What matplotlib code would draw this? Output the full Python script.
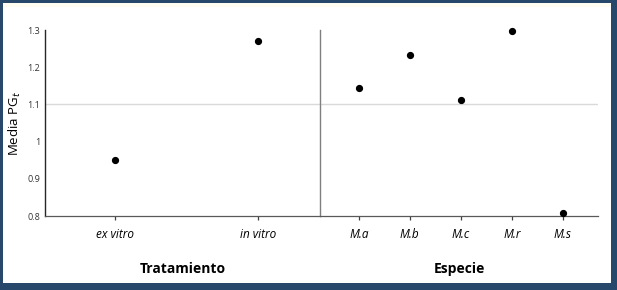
import matplotlib
matplotlib.use("Agg")
import matplotlib.pyplot as plt
from matplotlib.patches import Rectangle

trat_cats = ["ex vitro", "in vitro"]
trat_vals = [0.95, 1.27]
esp_cats = ["M.a", "M.b", "M.c", "M.r", "M.s"]
esp_vals = [1.144, 1.233, 1.112, 1.297, 0.808]
y_ticks = [0.8, 0.9, 1.0, 1.1, 1.2, 1.3]
y_ticklabels = ["0.8", "0.9", "1", "1.1", "1.2", "1.3"]

W, H = 617, 290
fig = plt.figure(figsize=(W / 100, H / 100), dpi=100)
fig.patch.set_facecolor("#27486b")
fig.add_artist(Rectangle((3 / W, (H - 283) / H), (611 - 3) / W, (283 - 3) / H,
                         transform=fig.transFigure, facecolor="white",
                         edgecolor="none", zorder=0))
fig.add_artist(Rectangle((3 / W, (H - 7) / H), (611 - 3) / W, 4 / H,
                         transform=fig.transFigure, facecolor="#fffcf2",
                         edgecolor="none", zorder=0))

font = "Open Sans"
bottom = (H - 216) / H
height = 186 / H
ax1 = fig.add_axes([45 / W, bottom, 275 / W, height])
ax2 = fig.add_axes([320 / W, bottom, 278 / W, height])

for ax in (ax1, ax2):
    ax.set_facecolor("none")
    ax.set_ylim(0.8, 1.3)
    ax.axhline(1.1, color="#d9d9d9", lw=1.0, zorder=1)
    for s in ("top", "right"):
        ax.spines[s].set_visible(False)
    ax.spines["bottom"].set_color("#595959")
    ax.spines["bottom"].set_linewidth(0.9)
    ax.tick_params(axis="x", direction="out", length=3, width=0.9,
                   color="#404040", pad=6)
    ax.tick_params(axis="y", length=0)

ax1.plot(range(len(trat_cats)), trat_vals, "o", color="black", ms=4.2, zorder=3)
ax1.set_xlim(-0.49, 1.43)
ax1.set_xticks(range(len(trat_cats)))
ax1.set_xticklabels(trat_cats, fontstyle="italic", fontsize=8.5, family=font)
ax1.set_yticks(y_ticks)
ax1.set_yticklabels(y_ticklabels, fontsize=6.5, family=font, color="#333333")
ax1.spines["left"].set_color("#262626")
ax1.spines["left"].set_linewidth(1.0)
ax1.set_ylabel("Media PG$_t$", fontsize=9.5, family=font, va="center")
ax1.yaxis.set_label_coords(-0.108, 0.5)
ax1.set_xlabel("Tratamiento", fontsize=10, fontweight="bold", family=font, labelpad=15)

ax2.plot(range(len(esp_cats)), esp_vals, "o", color="black", ms=4.2, zorder=3,
         clip_on=False)
ax2.set_xlim(-0.76, 4.69)
ax2.set_xticks(range(len(esp_cats)))
ax2.set_xticklabels(esp_cats, fontstyle="italic", fontsize=8.5, family=font)
ax2.set_yticks([])
ax2.spines["left"].set_color("#7f7f7f")
ax2.spines["left"].set_linewidth(1.0)
ax2.set_xlabel("Especie", fontsize=10, fontweight="bold", family=font, labelpad=15)

fig.savefig("out.png", dpi=100, facecolor=fig.get_facecolor())
